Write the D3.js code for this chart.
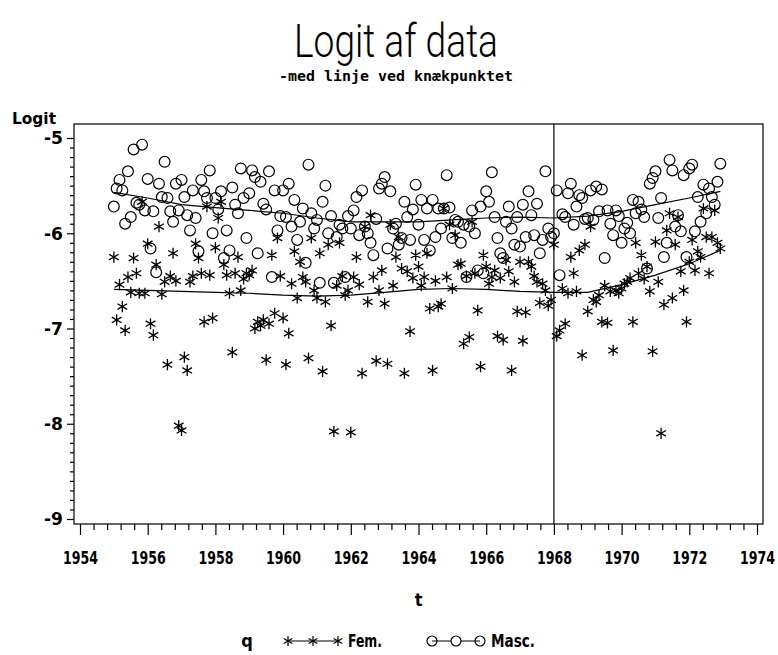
<!DOCTYPE html>
<html>
<head>
<meta charset="utf-8">
<script src="https://cdn.jsdelivr.net/npm/d3@7"></script>
<style>
  html, body { margin: 0; padding: 0; background: #fff; }
  svg { display: block; }
</style>
</head>
<body>
<svg id="chart" width="778" height="655"></svg>
<script>
// Monthly logits, January 1955 to December 1972 (one row per year).
const startYear = 1955;

const fem = [
  -6.25, -6.91, -6.54, -6.77, -7.02, -6.46, -6.62, -6.26, -6.42, -6.63, -5.67, -6.63, // 1955
  -6.11, -6.95, -7.07, -6.33, -5.93, -6.64, -6.51, -7.38, -6.45, -6.21, -6.50, -8.02, // 1956
  -8.07, -7.30, -7.44, -6.51, -6.45, -6.11, -6.26, -6.42, -6.93, -5.72, -6.44, -6.89, // 1957
  -6.15, -5.84, -5.67, -6.33, -6.44, -6.63, -7.25, -6.42, -6.25, -6.60, -6.48, -6.42, // 1958
  -6.44, -6.39, -7.00, -6.93, -6.97, -6.91, -7.33, -6.95, -6.23, -6.84, -6.05, -6.45, // 1959
  -6.89, -7.38, -7.05, -6.53, -6.19, -6.68, -6.30, -6.46, -6.51, -7.31, -6.05, -6.60, // 1960
  -6.68, -6.21, -7.45, -6.72, -6.12, -6.97, -8.08, -6.55, -6.10, -6.45, -6.65, -6.60, // 1961
  -8.09, -6.46, -6.25, -6.54, -7.47, -5.93, -6.72, -5.81, -6.46, -7.34, -6.60, -6.39, // 1962
  -6.74, -7.37, -5.91, -6.55, -6.25, -6.04, -6.37, -7.47, -6.40, -7.03, -6.47, -6.23, // 1963
  -6.35, -6.55, -6.46, -6.21, -6.79, -7.44, -6.50, -6.77, -6.74, -5.74, -6.46, -5.91, // 1964
  -6.58, -6.02, -6.33, -6.32, -7.16, -6.45, -7.09, -5.88, -6.42, -6.81, -7.40, -6.23, // 1965
  -6.35, -6.53, -6.46, -6.39, -7.08, -6.47, -7.12, -6.28, -6.40, -7.44, -6.51, -6.82, // 1966
  -6.30, -7.13, -6.83, -6.30, -6.35, -6.45, -6.51, -6.73, -6.53, -6.60, -6.76, -6.70, // 1967
  -6.12, -7.08, -7.02, -6.58, -6.95, -6.63, -6.25, -6.42, -6.61, -6.18, -7.28, -6.12, // 1968
  -6.82, -5.93, -6.70, -6.72, -6.65, -6.93, -6.55, -6.94, -6.61, -7.23, -6.60, -6.63, // 1969
  -6.58, -6.53, -6.51, -6.47, -6.93, -6.10, -6.42, -6.23, -6.48, -6.35, -6.61, -7.24, // 1970
  -6.09, -6.51, -8.10, -6.75, -5.97, -5.79, -6.68, -6.12, -5.83, -6.40, -6.60, -6.93, // 1971
  -6.30, -6.07, -6.39, -6.19, -6.25, -5.74, -6.04, -6.42, -6.04, -5.76, -6.10, -6.16  // 1972
];

const masc = [
  -5.72, -5.53, -5.44, -5.55, -5.90, -5.35, -5.83, -5.12, -5.68, -5.70, -5.07, -5.76, // 1955
  -5.43, -6.16, -5.77, -6.41, -5.48, -5.62, -5.25, -5.63, -5.77, -5.88, -5.48, -5.76, // 1956
  -5.44, -5.62, -5.81, -5.97, -5.55, -5.84, -6.19, -5.44, -5.56, -5.63, -5.34, -6.00, // 1957
  -5.63, -5.75, -5.56, -6.26, -5.97, -6.18, -5.52, -5.70, -5.79, -5.32, -5.63, -6.05, // 1958
  -5.58, -5.34, -5.41, -6.21, -5.46, -5.69, -5.75, -5.35, -6.46, -5.55, -5.97, -5.82, // 1959
  -5.55, -5.83, -5.48, -5.93, -5.65, -6.07, -5.88, -5.74, -6.31, -5.28, -5.79, -5.95, // 1960
  -5.86, -6.52, -5.67, -5.50, -6.00, -5.82, -6.52, -6.04, -5.91, -5.95, -6.46, -5.82, // 1961
  -5.95, -5.76, -5.62, -6.02, -5.55, -5.93, -6.00, -6.10, -6.23, -5.85, -5.53, -5.48, // 1962
  -5.41, -6.16, -5.56, -5.95, -5.90, -6.12, -6.05, -5.67, -5.83, -6.07, -5.75, -5.49, // 1963
  -5.91, -5.65, -6.07, -5.74, -6.18, -5.65, -6.04, -5.74, -5.95, -5.74, -5.39, -5.73, // 1964
  -6.05, -5.86, -5.88, -6.10, -5.91, -6.46, -5.93, -5.76, -6.00, -6.39, -5.72, -6.42, // 1965
  -5.56, -5.67, -5.36, -5.83, -6.05, -6.21, -6.26, -5.88, -5.72, -5.95, -6.12, -5.83, // 1966
  -6.14, -5.70, -6.04, -5.56, -5.81, -6.02, -5.69, -6.21, -6.07, -5.35, -5.95, -6.04, // 1967
  -6.00, -5.55, -6.44, -5.80, -5.83, -5.58, -5.48, -5.91, -5.72, -5.60, -5.63, -5.85, // 1968
  -5.84, -5.55, -5.86, -5.51, -5.77, -5.54, -6.26, -5.76, -5.90, -6.02, -5.76, -5.82, // 1969
  -6.10, -5.95, -5.89, -6.00, -5.65, -5.79, -5.67, -5.75, -5.83, -6.37, -5.48, -5.42, // 1970
  -5.35, -5.84, -5.63, -6.25, -6.10, -5.23, -5.34, -5.93, -5.81, -5.98, -5.39, -6.25, // 1971
  -5.32, -5.28, -5.98, -5.62, -5.88, -5.49, -5.79, -5.53, -5.62, -5.70, -5.46, -5.27  // 1972
];

// Fitted curves through each series, with the knot year marked by a vertical line.
const trendT    = [1955, 1956, 1957, 1958, 1959, 1960, 1961, 1962, 1963, 1964, 1965, 1966, 1967, 1968, 1969, 1970, 1971, 1972, 1972.92];
const mascTrend = [-5.57, -5.63, -5.70, -5.73, -5.76, -5.79, -5.84, -5.88, -5.88, -5.88, -5.86, -5.84, -5.83, -5.84, -5.82, -5.77, -5.70, -5.63, -5.56];
const femTrend  = [-6.59, -6.60, -6.61, -6.62, -6.63, -6.65, -6.66, -6.65, -6.62, -6.59, -6.58, -6.59, -6.61, -6.62, -6.62, -6.54, -6.44, -6.32, -6.18];
const knotYear = 1968;

// Axis ticks and labels.
const xTickLabels = [1954, 1956, 1958, 1960, 1962, 1964, 1966, 1968, 1970, 1972, 1974];
const yTickLabels = [-5, -6, -7, -8, -9];

const titleText = "Logit af data";
const subtitleText = "-med linje ved knækpunktet";
const yLabelText = "Logit";
const xLabelText = "t";
const legendTitle = "q";
const seriesNames = ["Fem.", "Masc."];

// ---------------------------------------------------------------------------
const svg = d3.select("#chart");
const frame = { left: 74, right: 763, top: 124, bottom: 524 };

const x = d3.scaleLinear().domain([1954, 1974]).range([80, 757]);
const y = d3.scaleLinear().domain([-9, -5]).range([519, 138]);

const labelFont = "'Liberation Sans Narrow','DejaVu Sans Condensed','Liberation Sans',Arial,sans-serif";

const monthT = i => startYear + i / 12;
const femPts = fem.map((v, i) => [monthT(i), v]);
const mascPts = masc.map((v, i) => [monthT(i), v]);

// Asterisk marker: a vertical stroke and two diagonals.
function starPath(r) {
  const a = r * 0.866, b = r * 0.5;
  return `M0,${-r}L0,${r}M${-a},${-b}L${a},${b}M${-a},${b}L${a},${-b}`;
}

// Plot frame
svg.append("rect")
  .attr("x", frame.left).attr("y", frame.top)
  .attr("width", frame.right - frame.left).attr("height", frame.bottom - frame.top)
  .attr("fill", "none").attr("stroke", "#000").attr("stroke-width", 1.2);

// X axis: labelled major ticks and four minor ticks between them
const xMinor = d3.range(0, 51).filter(i => i % 5 !== 0).map(i => 1954 + i * 0.4);
svg.append("g")
  .attr("transform", `translate(0,${frame.bottom})`)
  .call(d3.axisBottom(x).tickValues(xMinor).tickSize(6).tickFormat(""))
  .call(g => g.select(".domain").remove());

const xAxis = svg.append("g")
  .attr("transform", `translate(0,${frame.bottom})`)
  .call(d3.axisBottom(x).tickValues(xTickLabels).tickSize(11).tickPadding(16).tickFormat(d3.format("d")))
  .call(g => g.select(".domain").remove());
xAxis.selectAll("text")
  .attr("font-family", labelFont).attr("font-weight", "bold").attr("font-size", 18)
  .attr("fill", "#000")
  .attr("textLength", 35).attr("lengthAdjust", "spacingAndGlyphs");

// Y axis
const yMinor = d3.range(0, 41).filter(i => i % 10 !== 0).map(i => -9 + i * 0.1);
svg.append("g")
  .attr("transform", `translate(${frame.left},0)`)
  .call(d3.axisLeft(y).tickValues(yMinor).tickSize(4).tickFormat(""))
  .call(g => g.select(".domain").remove());

const yAxis = svg.append("g")
  .attr("transform", `translate(${frame.left},0)`)
  .call(d3.axisLeft(y).tickValues(yTickLabels).tickSize(7).tickPadding(4).tickFormat(d3.format("d")))
  .call(g => g.select(".domain").remove());
yAxis.selectAll("text")
  .attr("font-family", labelFont).attr("font-weight", "bold").attr("font-size", 18)
  .attr("fill", "#000")
  .text(d => "-" + Math.abs(d))
  .attr("textLength", 19).attr("lengthAdjust", "spacingAndGlyphs");

svg.selectAll(".tick line").attr("stroke", "#000").attr("stroke-width", 1.2);

// Vertical line at the knot
svg.append("line")
  .attr("x1", x(knotYear)).attr("x2", x(knotYear))
  .attr("y1", frame.top).attr("y2", frame.bottom)
  .attr("stroke", "#000").attr("stroke-width", 1.2);

// Fitted curves
const line = d3.line().x(d => x(d[0])).y(d => y(d[1]));
const plot = svg.append("g");
plot.append("path")
  .datum(trendT.map((t, i) => [t, mascTrend[i]]))
  .attr("d", line).attr("fill", "none").attr("stroke", "#000").attr("stroke-width", 1.2);
plot.append("path")
  .datum(trendT.map((t, i) => [t, femTrend[i]]))
  .attr("d", line).attr("fill", "none").attr("stroke", "#000").attr("stroke-width", 1.2);

// Markers
plot.append("g").selectAll("circle")
  .data(mascPts).join("circle")
  .attr("cx", d => x(d[0])).attr("cy", d => y(d[1])).attr("r", 5.4)
  .attr("fill", "none").attr("stroke", "#000").attr("stroke-width", 1.2);

plot.append("g").selectAll("path")
  .data(femPts).join("path")
  .attr("transform", d => `translate(${x(d[0])},${y(d[1])})`)
  .attr("d", starPath(5.6))
  .attr("fill", "none").attr("stroke", "#000").attr("stroke-width", 1.3);

// Titles
svg.append("text")
  .attr("x", 396).attr("y", 57).attr("text-anchor", "middle")
  .attr("font-family", "Roboto,'Open Sans',sans-serif").attr("font-weight", 300)
  .attr("font-size", 47).attr("fill", "#000")
  .attr("textLength", 204).attr("lengthAdjust", "spacingAndGlyphs")
  .text(titleText);

svg.append("text")
  .attr("x", 396).attr("y", 81).attr("text-anchor", "middle")
  .attr("font-family", "'DejaVu Sans Mono','Liberation Mono',monospace").attr("font-weight", "bold")
  .attr("font-size", 14).attr("fill", "#000")
  .attr("textLength", 234).attr("lengthAdjust", "spacingAndGlyphs")
  .text(subtitleText);

// Axis labels
svg.append("text")
  .attr("x", 12).attr("y", 124)
  .attr("font-family", labelFont).attr("font-weight", "bold").attr("font-size", 16)
  .attr("fill", "#000")
  .attr("textLength", 44).attr("lengthAdjust", "spacingAndGlyphs")
  .text(yLabelText);

svg.append("text")
  .attr("x", (frame.left + frame.right) / 2).attr("y", 606).attr("text-anchor", "middle")
  .attr("font-family", labelFont).attr("font-weight", "bold").attr("font-size", 18)
  .attr("fill", "#000")
  .text(xLabelText);

// Legend
const legendY = 641;
const legend = svg.append("g");
legend.append("text")
  .attr("x", 247).attr("y", legendY + 6).attr("text-anchor", "middle")
  .attr("font-family", labelFont).attr("font-weight", "bold").attr("font-size", 18)
  .attr("fill", "#000").text(legendTitle);

const femKey = [288, 313, 338];
legend.append("line")
  .attr("x1", femKey[0]).attr("x2", femKey[2]).attr("y1", legendY).attr("y2", legendY)
  .attr("stroke", "#000").attr("stroke-width", 1.2);
legend.selectAll(".fkey").data(femKey).join("path")
  .attr("transform", d => `translate(${d},${legendY})`)
  .attr("d", starPath(5))
  .attr("fill", "none").attr("stroke", "#000").attr("stroke-width", 1.2);
legend.append("text")
  .attr("x", 348).attr("y", legendY + 6)
  .attr("font-family", labelFont).attr("font-weight", "bold").attr("font-size", 18)
  .attr("fill", "#000")
  .attr("textLength", 34).attr("lengthAdjust", "spacingAndGlyphs")
  .text(seriesNames[0]);

const mascKey = [432, 456, 480];
legend.append("line")
  .attr("x1", mascKey[0]).attr("x2", mascKey[2]).attr("y1", legendY).attr("y2", legendY)
  .attr("stroke", "#000").attr("stroke-width", 1.2);
legend.selectAll(".mkey").data(mascKey).join("circle")
  .attr("cx", d => d).attr("cy", legendY).attr("r", 5)
  .attr("fill", (d, i) => i === 1 ? "#fff" : "none")
  .attr("stroke", "#000").attr("stroke-width", 1.2);
legend.append("text")
  .attr("x", 491).attr("y", legendY + 6)
  .attr("font-family", labelFont).attr("font-weight", "bold").attr("font-size", 18)
  .attr("fill", "#000")
  .attr("textLength", 44).attr("lengthAdjust", "spacingAndGlyphs")
  .text(seriesNames[1]);
</script>
</body>
</html>
